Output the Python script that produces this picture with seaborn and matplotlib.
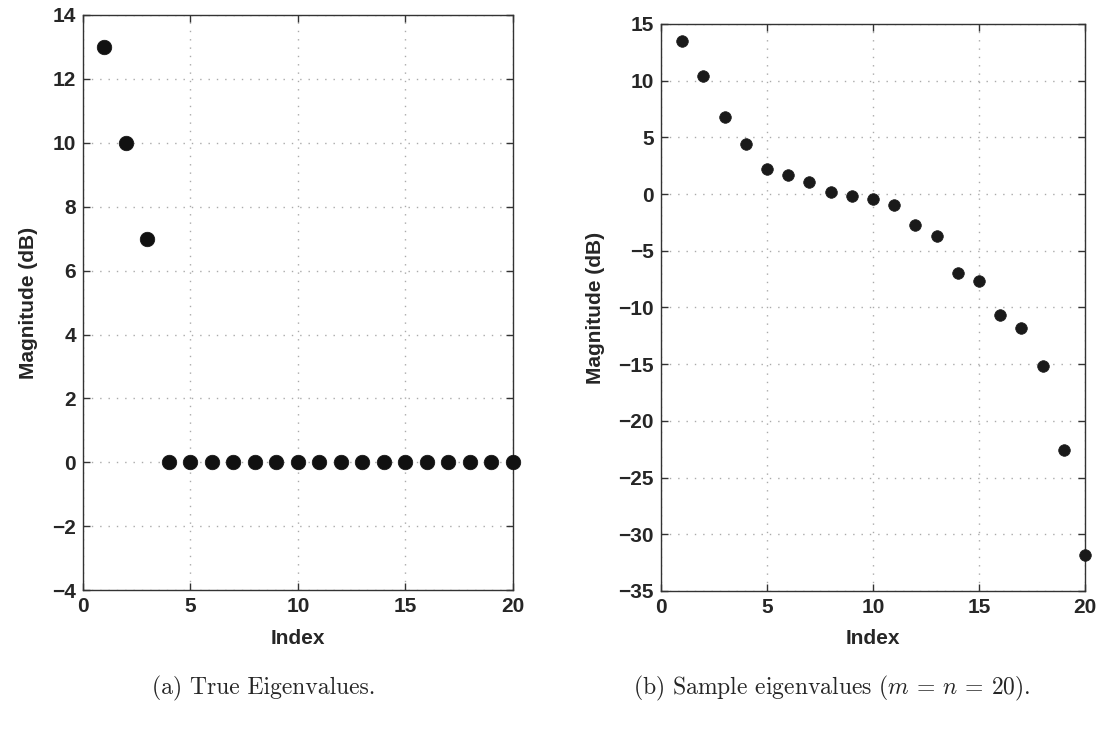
import numpy as np
import pandas as pd
import seaborn as sns
import matplotlib
matplotlib.use("Agg")
import matplotlib.pyplot as plt

# ---- data ----
index = list(range(1, 21))
true_eig_db = [13, 10, 7] + [0] * 17
sample_eig_db = [13.5, 10.4, 6.8, 4.4, 2.2, 1.65, 1.1, 0.2, -0.2, -0.45,
                 -0.95, -2.7, -3.7, -7.0, -7.7, -10.7, -11.8, -15.2, -22.6, -31.8]
xlabel = "Index"
ylabel = "Magnitude (dB)"
caption_a = "(a) True Eigenvalues."
caption_b = r"(b) Sample eigenvalues ($m$ = $n$ = 20)."

sns.set_style("white")
plt.rcParams["font.family"] = ["Liberation Sans", "DejaVu Sans"]
plt.rcParams["mathtext.fontset"] = "cm"

fig = plt.figure(figsize=(11.02, 7.35), dpi=100)
ax1 = fig.add_axes([0.0753, 0.197, 0.3902, 0.7826])
ax2 = fig.add_axes([0.5998, 0.196, 0.3848, 0.7714])

df1 = pd.DataFrame({"idx": index, "val": true_eig_db})
df2 = pd.DataFrame({"idx": index, "val": sample_eig_db})

sns.scatterplot(data=df1, x="idx", y="val", ax=ax1, s=110, color="#111111",
                edgecolor="#111111", linewidth=0.5, zorder=3, clip_on=False)
sns.scatterplot(data=df2, x="idx", y="val", ax=ax2, s=70, color="#1a1a1a",
                edgecolor="#1a1a1a", linewidth=0.5, zorder=3, clip_on=False)

def style(ax, ylim, yticks):
    ax.set_xlim(0, 20)
    ax.set_ylim(*ylim)
    ax.set_xticks([0, 5, 10, 15, 20])
    ax.set_yticks(yticks)
    ax.grid(True, linestyle=(0, (1, 5)), color="#aaaaaa", linewidth=1.0)
    ax.set_axisbelow(True)
    for sp in ax.spines.values():
        sp.set_visible(True)
        sp.set_color("#333333")
        sp.set_linewidth(1.0)
    ax.tick_params(direction="in", length=5, width=1, color="#333333",
                   top=True, right=True, bottom=True, left=True,
                   labelsize=15, pad=5)
    for lab in ax.get_xticklabels() + ax.get_yticklabels():
        lab.set_fontweight("bold")
    ax.set_xlabel(xlabel, fontsize=15, fontweight="bold", labelpad=9)
    ax.set_ylabel(ylabel, fontsize=15, fontweight="bold", labelpad=10)

style(ax1, (-4, 14), list(range(-4, 15, 2)))
style(ax2, (-35, 15), list(range(-35, 16, 5)))

fig.text(0.2396, 0.063, caption_a, ha="center", va="center",
         fontsize=17, family="cmr10")
fig.text(0.755, 0.063, caption_b, ha="center", va="center",
         fontsize=17, family="cmr10")

fig.savefig("out.png", dpi=100)
